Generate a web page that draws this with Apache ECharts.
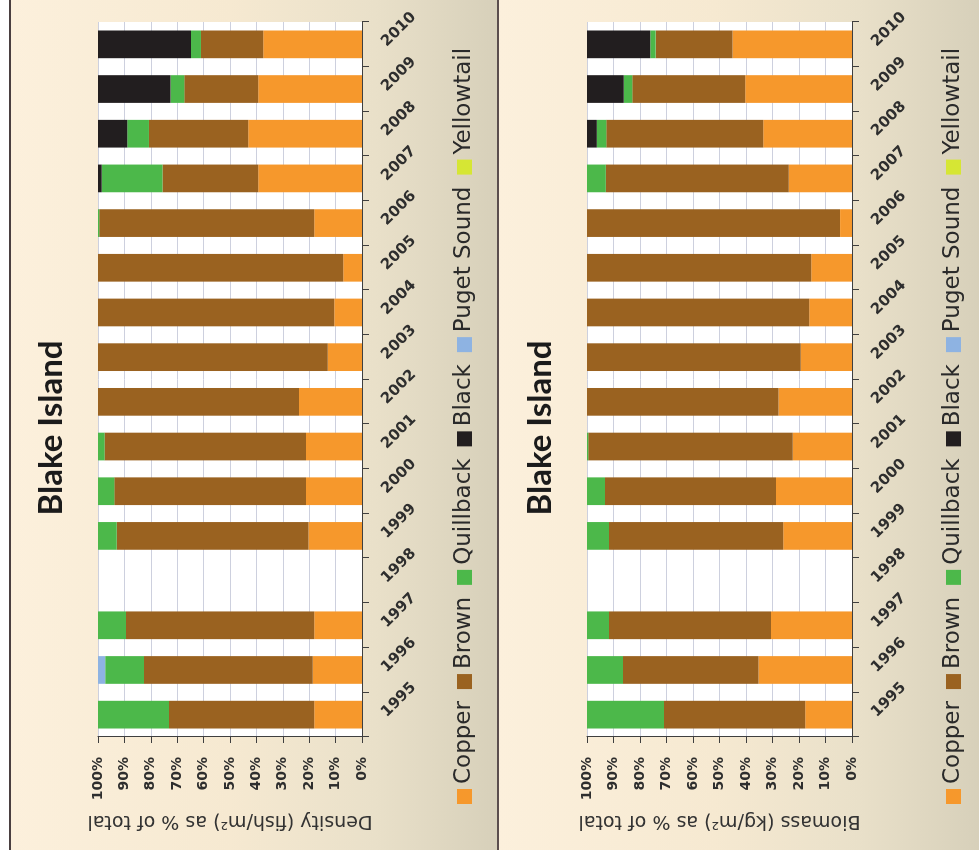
<!DOCTYPE html>
<html>
<head>
<meta charset="utf-8">
<script src="https://cdn.jsdelivr.net/npm/echarts@6/dist/echarts.min.js"></script>
<style>
  html, body { margin: 0; padding: 0; background: #ffffff; overflow: hidden; width: 979px; height: 856px; }
  /* The poster is laid out upright and turned a quarter turn counter-clockwise. */
  #poster {
    position: absolute; left: 0; top: 0;
    width: 856px; height: 979px;
    transform-origin: 0 0;
    transform: translate(0px, 856px) rotate(-90deg);
  }
</style>
</head>
<body>
<div id="poster"></div>
<script>
// Survey years
const years = ['1995','1996','1997','1998','1999','2000','2001','2002','2003','2004','2005','2006','2007','2008','2009','2010'];

// Species (stacked from 0% upward) and their colours
const speciesNames = ['Copper', 'Brown', 'Quillback', 'Black', 'Puget Sound', 'Yellowtail'];
const speciesColors = ['#f6982c', '#9a6220', '#4cb84a', '#221e1f', '#8eb3e2', '#d6e634'];

// Density (fish/m²) as % of total, per year
const densityCopper     = [18.1, 18.7, 18.1, null, 20.3, 21.2, 21.2, 23.9, 13.0, 10.5, 7.1, 18.1, 39.3, 43.1, 39.3, 37.4];
const densityBrown      = [55.0, 63.9, 71.3, null, 72.6, 72.6, 76.3, 76.1, 87.0, 89.5, 92.9, 81.4, 36.3, 37.6, 28.0, 23.6];
const densityQuillback  = [26.9, 14.7, 10.6, null, 7.1, 6.2, 2.5, 0, 0, 0, 0, 0.5, 23.0, 8.2, 5.2, 3.8];
const densityBlack      = [0, 0, 0, null, 0, 0, 0, 0, 0, 0, 0, 0, 1.4, 11.1, 27.5, 35.2];
const densityPugetSound = [0, 2.7, 0, null, 0, 0, 0, 0, 0, 0, 0, 0, 0, 0, 0, 0];
const densityYellowtail = [0, 0, 0, null, 0, 0, 0, 0, 0, 0, 0, 0, 0, 0, 0, 0];

// Biomass (kg/m²) as % of total, per year
const biomassCopper     = [17.6, 35.3, 30.6, null, 25.9, 28.7, 22.4, 27.7, 19.3, 16.1, 15.4, 4.5, 23.9, 33.5, 40.3, 45.1];
const biomassBrown      = [53.3, 51.1, 61.1, null, 65.8, 64.5, 77.1, 72.3, 80.7, 83.9, 84.6, 95.5, 69.0, 59.2, 42.6, 29.0];
const biomassQuillback  = [29.1, 13.6, 8.3, null, 8.3, 6.8, 0.5, 0, 0, 0, 0, 0, 7.1, 3.6, 3.2, 2.0];
const biomassBlack      = [0, 0, 0, null, 0, 0, 0, 0, 0, 0, 0, 0, 0, 3.7, 13.9, 23.9];
const biomassPugetSound = [0, 0, 0, null, 0, 0, 0, 0, 0, 0, 0, 0, 0, 0, 0, 0];
const biomassYellowtail = [0, 0, 0, null, 0, 0, 0, 0, 0, 0, 0, 0, 0, 0, 0, 0];

// Percentage ticks
const percentTicks = { min: 0, max: 100, interval: 10 };

const panelTitle = 'Blake Island';
const densityAxisName = 'Density (fish/m²) as % of total';
const biomassAxisName = 'Biomass (kg/m²) as % of total';

const densitySets = [densityCopper, densityBrown, densityQuillback, densityBlack, densityPugetSound, densityYellowtail];
const biomassSets = [biomassCopper, biomassBrown, biomassQuillback, biomassBlack, biomassPugetSound, biomassYellowtail];

const chart = echarts.init(document.getElementById('poster'), null, { renderer: 'canvas', width: 856, height: 979 });

const axisInk = '#3f3f3f';
const labelInk = '#2e2e2e';

function panelFill() {
  return new echarts.graphic.LinearGradient(0, 0, 0, 1, [
    { offset: 0, color: '#fcf0dc' },
    { offset: 0.45, color: '#f6e9d1' },
    { offset: 0.75, color: '#e9e0c9' },
    { offset: 1, color: '#d7d0ba' }
  ]);
}

function categoryAxis(gridIndex) {
  return {
    type: 'category',
    gridIndex: gridIndex,
    data: years,
    axisLine: { show: true, lineStyle: { color: axisInk, width: 1 } },
    axisTick: { show: true, length: 7, lineStyle: { color: axisInk } },
    axisLabel: {
      interval: 0, rotate: -45, margin: 22,
      fontFamily: 'DejaVu Sans', fontWeight: 'bold', fontSize: 15, color: labelInk
    }
  };
}

function valueAxis(gridIndex, name) {
  return {
    type: 'value',
    gridIndex: gridIndex,
    min: percentTicks.min, max: percentTicks.max, interval: percentTicks.interval,
    name: name,
    nameLocation: 'middle',
    nameGap: 74,
    nameTextStyle: { fontFamily: 'DejaVu Sans', fontSize: 19, color: '#333333' },
    axisLine: { show: true, lineStyle: { color: axisInk, width: 1 } },
    axisTick: { show: true, length: 6, lineStyle: { color: axisInk } },
    axisLabel: {
      formatter: '{value}%', margin: 20,
      fontFamily: 'DejaVu Sans', fontWeight: 'bold', fontSize: 14, color: labelInk
    },
    splitLine: { show: true, lineStyle: { color: '#cdd0de', width: 1 } }
  };
}

function legendBlock(top) {
  return {
    data: speciesNames,
    left: 47, top: top,
    orient: 'horizontal',
    icon: 'rect',
    itemWidth: 15, itemHeight: 15, itemGap: 12,
    textStyle: { fontFamily: 'DejaVu Sans', fontSize: 23, color: '#2a2a2a' },
    selectedMode: false
  };
}

const series = [];
[densitySets, biomassSets].forEach(function (sets, panel) {
  sets.forEach(function (values, i) {
    series.push({
      name: speciesNames[i],
      type: 'bar',
      xAxisIndex: panel, yAxisIndex: panel,
      stack: panel === 0 ? 'density' : 'biomass',
      barWidth: '62%',
      itemStyle: { color: speciesColors[i] },
      data: values
    });
  });
});

chart.setOption({
  animation: false,
  backgroundColor: '#ffffff',
  color: speciesColors,
  graphic: [
    { type: 'rect', z: -100, shape: { x: 6, y: 11, width: 850, height: 486 }, style: { fill: panelFill() } },
    { type: 'rect', z: -100, shape: { x: 6, y: 499, width: 850, height: 480 }, style: { fill: panelFill() } },
    { type: 'rect', z: -99, shape: { x: 6, y: 9, width: 850, height: 2 }, style: { fill: '#4a3f40' } },
    { type: 'rect', z: -99, shape: { x: 6, y: 497, width: 850, height: 2 }, style: { fill: '#5b4e4e' } }
  ],
  title: [
    { text: panelTitle, left: 'center', top: 30,
      textStyle: { fontFamily: 'Lato', fontWeight: 'bold', fontSize: 33, color: '#1b1b1b' } },
    { text: panelTitle, left: 'center', top: 519,
      textStyle: { fontFamily: 'Lato', fontWeight: 'bold', fontSize: 33, color: '#1b1b1b' } }
  ],
  legend: [legendBlock(448), legendBlock(937)],
  grid: [
    { left: 119, right: 22, top: 98, height: 264, show: true, backgroundColor: '#ffffff', borderWidth: 0 },
    { left: 119, right: 22, top: 587, height: 265, show: true, backgroundColor: '#ffffff', borderWidth: 0 }
  ],
  xAxis: [categoryAxis(0), categoryAxis(1)],
  yAxis: [valueAxis(0, densityAxisName), valueAxis(1, biomassAxisName)],
  series: series
});
</script>
</body>
</html>
